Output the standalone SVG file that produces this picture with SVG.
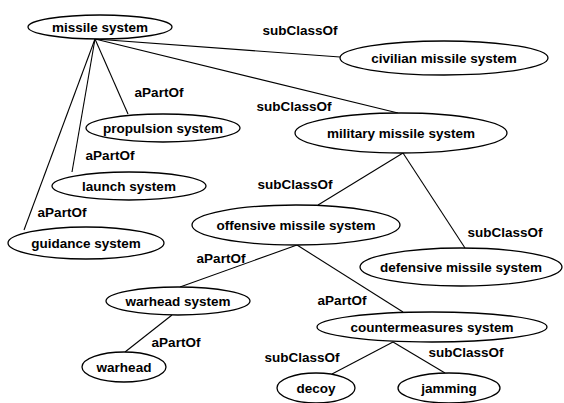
<svg xmlns="http://www.w3.org/2000/svg" width="564" height="403" viewBox="0 0 564 403">
<style>
.n ellipse{fill:#fff;stroke:#000;stroke-width:1.3}
text{font-family:"Liberation Sans",Arial,sans-serif;font-weight:bold;font-size:13.5px;fill:#000}
.n text{text-anchor:middle}
.lb text{text-anchor:middle}
#edges line{stroke:#000;stroke-width:1.1}
</style>
<rect width="564" height="403" fill="#fff"/>
<g id="edges">
<line x1="95" y1="39" x2="340" y2="57"/>
<line x1="95" y1="39" x2="398" y2="113"/>
<line x1="95" y1="39" x2="128" y2="114"/>
<line x1="95" y1="39" x2="72" y2="172"/>
<line x1="95" y1="39" x2="24" y2="230"/>
<line x1="403" y1="153" x2="318" y2="205"/>
<line x1="403" y1="153" x2="465" y2="248"/>
<line x1="297" y1="245" x2="180" y2="287"/>
<line x1="297" y1="245" x2="403" y2="312"/>
<line x1="172" y1="315" x2="125" y2="352"/>
<line x1="393" y1="342" x2="332" y2="374"/>
<line x1="393" y1="342" x2="445" y2="373"/>
</g>
<g class="lb" id="labels">
<text x="300" y="35">subClassOf</text>
<text x="159" y="97">aPartOf</text>
<text x="294" y="111">subClassOf</text>
<text x="110" y="160">aPartOf</text>
<text x="295" y="189">subClassOf</text>
<text x="62" y="217">aPartOf</text>
<text x="505" y="237">subClassOf</text>
<text x="221" y="263">aPartOf</text>
<text x="342" y="305">aPartOf</text>
<text x="176" y="347">aPartOf</text>
<text x="302" y="362">subClassOf</text>
<text x="466" y="357">subClassOf</text>
</g>
<g class="n" id="missile-system"><ellipse cx="100" cy="27" rx="72" ry="12"/><text x="100" y="31.5">missile system</text></g>
<g class="n" id="civilian-missile-system"><ellipse cx="444" cy="58" rx="104" ry="17"/><text x="444" y="62.5">civilian missile system</text></g>
<g class="n" id="propulsion-system"><ellipse cx="163" cy="128" rx="77" ry="14"/><text x="163" y="132.5">propulsion system</text></g>
<g class="n" id="military-missile-system"><ellipse cx="401" cy="133" rx="106" ry="20"/><text x="401" y="137.5">military missile system</text></g>
<g class="n" id="launch-system"><ellipse cx="129" cy="186" rx="77" ry="14"/><text x="129" y="190.5">launch system</text></g>
<g class="n" id="offensive-missile-system"><ellipse cx="296" cy="225" rx="104" ry="20"/><text x="296" y="229.5">offensive missile system</text></g>
<g class="n" id="guidance-system"><ellipse cx="86" cy="243" rx="78" ry="16"/><text x="86" y="247.5">guidance system</text></g>
<g class="n" id="defensive-missile-system"><ellipse cx="461" cy="267" rx="101" ry="19"/><text x="461" y="271.5">defensive missile system</text></g>
<g class="n" id="warhead-system"><ellipse cx="178" cy="301" rx="72" ry="14"/><text x="178" y="305.5">warhead system</text></g>
<g class="n" id="countermeasures-system"><ellipse cx="432" cy="327" rx="115" ry="15"/><text x="432" y="331.5">countermeasures system</text></g>
<g class="n" id="warhead"><ellipse cx="124" cy="367" rx="42" ry="15"/><text x="124" y="371.5">warhead</text></g>
<g class="n" id="decoy"><ellipse cx="316" cy="388" rx="39" ry="15"/><text x="316" y="392.5">decoy</text></g>
<g class="n" id="jamming"><ellipse cx="449" cy="388" rx="51" ry="15"/><text x="449" y="392.5">jamming</text></g>
</svg>
